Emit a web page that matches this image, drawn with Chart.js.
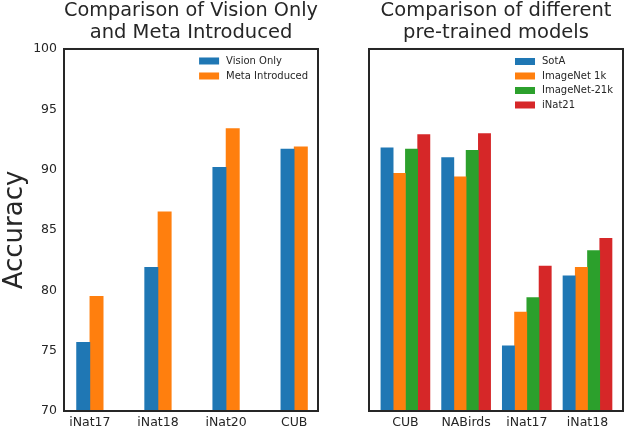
<!DOCTYPE html>
<html>
<head>
<meta charset="utf-8">
<script src="https://cdn.jsdelivr.net/npm/chart.js@4"></script>
<style>
html,body{margin:0;padding:0;background:#fff;}
#wrap{position:relative;width:624px;height:430px;}
canvas{position:absolute;left:0;top:0;width:624px;height:430px;}
</style>
</head>
<body>
<div id="wrap">
<canvas id="c1" width="624" height="430"></canvas>
<canvas id="c2" width="624" height="430"></canvas>
</div>
<script>
// ---- data ----
const leftCategories = ['iNat17', 'iNat18', 'iNat20', 'CUB'];
const visionOnly = [75.7, 81.9, 90.2, 91.7];
const metaIntroduced = [79.5, 86.5, 93.4, 91.9];

const rightCategories = ['CUB', 'NABirds', 'iNat17', 'iNat18'];
const sota = [91.8, 91.0, 75.4, 81.2];
const imagenet1k = [89.7, 89.4, 78.2, 81.9];
const imagenet21k = [91.7, 91.6, 79.4, 83.3];
const inat21 = [92.9, 93.0, 82.0, 84.3];

const yMin = 70, yMax = 100, yStep = 5;

const leftTitle = ['Comparison of Vision Only', 'and Meta Introduced'];
const rightTitle = ['Comparison of different', 'pre-trained models'];
const yTitle = 'Accuracy';

// ---- styling ----
const FONT = '"DejaVu Sans", sans-serif';
const TEXT = '#262626';
const C = {blue: '#1f77b4', orange: '#ff7f0e', green: '#2ca02c', red: '#d62728'};

const toPoints = arr => arr.map((v, i) => ({x: i, y: v}));

const framePlugin = {
  id: 'frame',
  afterDatasetsDraw(chart) {
    const a = chart.chartArea, ctx = chart.ctx;
    ctx.save();
    ctx.strokeStyle = TEXT;
    ctx.lineWidth = 2;
    ctx.strokeRect(a.left, a.top, a.right - a.left, a.bottom - a.top);
    ctx.restore();
  }
};

const boxLegend = {
  id: 'boxLegend',
  afterDraw(chart, args, opts) {
    const ctx = chart.ctx, a = chart.chartArea;
    const ds = chart.data.datasets;
    ctx.save();
    ctx.font = '10px ' + FONT;
    const maxW = Math.max(...ds.map(d => ctx.measureText(d.label).width));
    const textX = a.right - 10 - maxW;
    const patchX = textX - 7 - 20;
    ds.forEach((d, i) => {
      const cy = a.top + opts.firstRow + i * opts.rowStep;
      ctx.fillStyle = d.backgroundColor;
      ctx.fillRect(patchX, cy - 3.5, 20, 7);
      ctx.fillStyle = TEXT;
      ctx.textBaseline = 'middle';
      ctx.textAlign = 'left';
      ctx.fillText(d.label, textX, cy);
    });
    ctx.restore();
  }
};

function xScale(cats, min, max) {
  return {
    type: 'linear',
    min: min, max: max,
    offset: false,
    grid: {display: false, drawTicks: false, offset: false},
    border: {display: false},
    afterFit(scale) { scale.height = 19; },
    ticks: {
      stepSize: 1,
      includeBounds: false,
      autoSkip: false,
      maxRotation: 0,
      padding: 4,
      color: TEXT,
      font: {family: FONT, size: 12.5},
      callback: v => (Number.isInteger(v) && cats[v] !== undefined) ? cats[v] : ''
    }
  };
}

function titleOpts(text) {
  return {
    display: true,
    text: text,
    fullSize: false,
    color: TEXT,
    font: {family: FONT, size: 19.5, weight: 'normal', lineHeight: 1.128},
    padding: {top: 0.3, bottom: 4.7}
  };
}

new Chart(document.getElementById('c1'), {
  type: 'bar',
  data: {
    datasets: [
      {label: 'Vision Only', data: toPoints(visionOnly), backgroundColor: C.blue, borderWidth: 0, barThickness: 13.3},
      {label: 'Meta Introduced', data: toPoints(metaIntroduced), backgroundColor: C.orange, borderWidth: 0, barThickness: 13.3}
    ]
  },
  options: {
    responsive: false,
    devicePixelRatio: 1,
    animation: false,
    layout: {padding: {left: 0, right: 306, top: 0, bottom: 0}},
    scales: {
      x: xScale(leftCategories, -0.38, 3.35),
      y: {
        min: yMin, max: yMax,
        grid: {display: false, drawTicks: false},
        border: {display: false},
        afterFit(scale) { scale.width = 64; },
        ticks: {stepSize: yStep, padding: 7, color: TEXT, font: {family: FONT, size: 12.5}},
        title: {display: true, text: yTitle, color: TEXT, padding: 0, font: {family: FONT, size: 26}}
      }
    },
    plugins: {
      legend: {display: false},
      tooltip: {enabled: false},
      title: titleOpts(leftTitle),
      boxLegend: {firstRow: 12, rowStep: 15}
    }
  },
  plugins: [framePlugin, boxLegend]
});

new Chart(document.getElementById('c2'), {
  type: 'bar',
  data: {
    datasets: [
      {label: 'SotA', data: toPoints(sota), backgroundColor: C.blue, borderWidth: 0, barThickness: 12.25},
      {label: 'ImageNet 1k', data: toPoints(imagenet1k), backgroundColor: C.orange, borderWidth: 0, barThickness: 12.25},
      {label: 'ImageNet-21k', data: toPoints(imagenet21k), backgroundColor: C.green, borderWidth: 0, barThickness: 12.25},
      {label: 'iNat21', data: toPoints(inat21), backgroundColor: C.red, borderWidth: 0, barThickness: 12.25}
    ]
  },
  options: {
    responsive: false,
    devicePixelRatio: 1,
    animation: false,
    layout: {padding: {left: 369, right: 1, top: 0, bottom: 0}},
    scales: {
      x: xScale(rightCategories, -0.60, 3.585),
      y: {min: yMin, max: yMax, display: false}
    },
    plugins: {
      legend: {display: false},
      tooltip: {enabled: false},
      title: titleOpts(rightTitle),
      boxLegend: {firstRow: 12.5, rowStep: 14.5}
    }
  },
  plugins: [framePlugin, boxLegend]
});
</script>
</body>
</html>
